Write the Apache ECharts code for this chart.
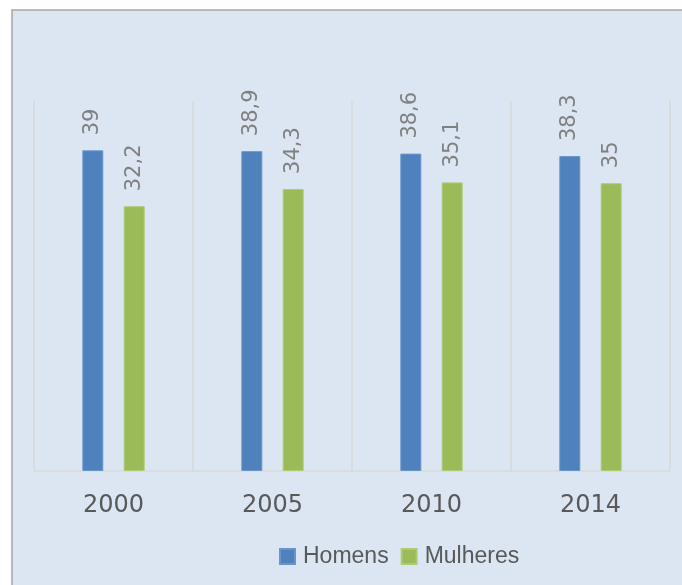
<!DOCTYPE html>
<html>
<head>
<meta charset="utf-8">
<script src="https://cdn.jsdelivr.net/npm/echarts@6/dist/echarts.min.js"></script>
<style>
html,body{margin:0;padding:0;background:#ffffff;}
#chart{width:682px;height:585px;}
</style>
</head>
<body>
<div id="chart"></div>
<script>
var categories = ['2000', '2005', '2010', '2014'];
var homens = [39, 38.9, 38.6, 38.3];
var mulheres = [32.2, 34.3, 35.1, 35];
var seriesNames = ['Homens', 'Mulheres'];

var chart = echarts.init(document.getElementById('chart'), null, {renderer: 'canvas'});
function fmt(p) { return String(p.value).replace('.', ','); }
var labelStyle = {
  show: true, position: 'top', rotate: 90, align: 'left', verticalAlign: 'middle',
  distance: 15, color: '#808080', fontSize: 21, fontFamily: 'DejaVu Sans, sans-serif',
  formatter: fmt
};
chart.setOption({
  animation: false,
  backgroundColor: '#ffffff',
  graphic: [{
    type: 'rect', z: -10, silent: true,
    shape: {x: 12, y: 10, width: 800, height: 700},
    style: {fill: '#dce6f2', stroke: '#a6a6a6', lineWidth: 1.5}
  }],
  grid: {left: 34, right: 12, top: 101, bottom: 114},
  legend: {
    left: 274, top: 540, itemWidth: 15, itemHeight: 15, itemGap: 12,
    icon: 'rect',
    textStyle: {fontSize: 23, color: '#595959', fontFamily: 'Liberation Sans, Arial, sans-serif', padding: [0, 0, 0, 3]},
    data: seriesNames
  },
  xAxis: {
    type: 'category', data: categories, boundaryGap: true,
    axisLine: {show: true, lineStyle: {color: '#d9d9d9', width: 1.5}},
    axisTick: {show: false},
    splitLine: {show: true, lineStyle: {color: '#d9d9d9', width: 1.5}},
    axisLabel: {color: '#595959', fontSize: 24, margin: 23, fontFamily: 'DejaVu Sans, sans-serif'}
  },
  yAxis: {
    type: 'value', min: 0, max: 45, show: false,
    splitLine: {show: false}
  },
  series: [
    {name: seriesNames[0], type: 'bar', data: homens, barWidth: 21, barGap: '97%',
     itemStyle: {color: '#4f81bd', borderColor: '#6a95cb', borderWidth: 1}, label: labelStyle},
    {name: seriesNames[1], type: 'bar', data: mulheres, barWidth: 21,
     itemStyle: {color: '#9bbb59', borderColor: '#aecb74', borderWidth: 1}, label: labelStyle}
  ]
});
</script>
</body>
</html>
